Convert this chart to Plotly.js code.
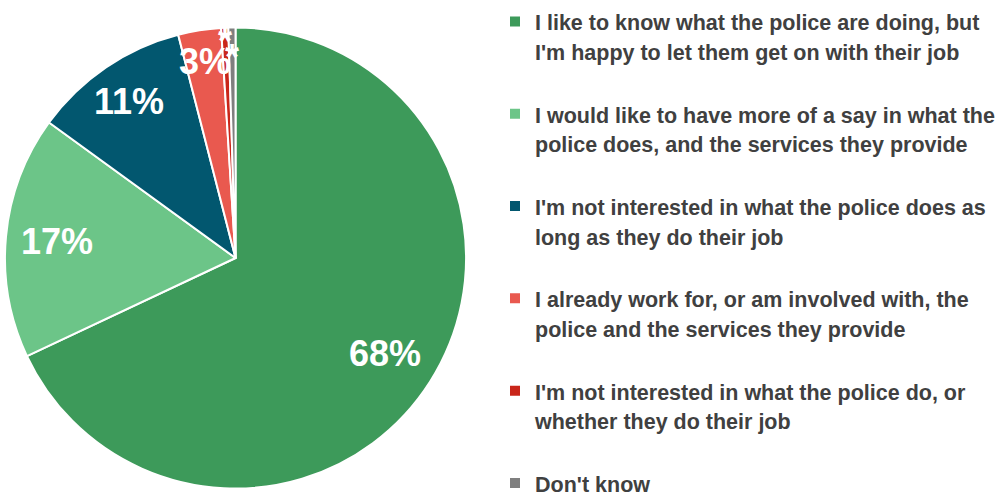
<!DOCTYPE html>
<html>
<head>
<meta charset="utf-8">
<script src="https://cdn.plot.ly/plotly-3.0.1.min.js"></script>
<style>
  html, body { margin: 0; padding: 0; background: #fff; overflow: hidden; }
  #chart { width: 1001px; height: 498px; }
</style>
</head>
<body>
<div id="chart"></div>
<script>
// ---- data ----
const categories = [
  "I like to know what the police are doing, but<br>I'm happy to let them get on with their job",
  "I would like to have more of a say in what the<br>police does, and the services they provide",
  "I'm not interested in what the police does as<br>long as they do their job",
  "I already work for, or am involved with, the<br>police and the services they provide",
  "I'm not interested in what the police do, or<br>whether they do their job",
  "Don't know"
];
const values = [68, 17, 11, 3, 0.5, 0.5];
const valueLabels = ["68%", "17%", "11%", "3%", "*", "*"];

// ---- style ----
const colors = ["#3D9A5A", "#6CC588", "#02576F", "#E9594F", "#C9261A", "#7F7F7F"];
const labelRadius = [0.77, 0.78, 0.82, 0.86, 0.94, 0.866]; // fraction of pie radius for each data label
const legendTextSize = 21.5;

const W = 1001, H = 498;
const domX = [5 / W, 467 / W];
const domY = [1 - 489 / H, 1 - 27 / H];

// legend entries: each line at the text size; a blank trailing line spaces the entries apart
const legendLabels = categories.map((c, i) => {
  const lines = c.split("<br>").map(l => `<span style="font-size:${legendTextSize}px">${l}</span>`);
  return lines.join("<br>") + (i < categories.length - 1 ? "<br> " : "");
});

const trace = {
  type: "pie",
  labels: legendLabels,
  values: values,
  text: valueLabels,
  textinfo: "none",
  sort: false,
  direction: "clockwise",
  rotation: 0,
  hoverinfo: "label+text",
  marker: { colors: colors, line: { color: "#ffffff", width: 2 } },
  domain: { x: domX, y: domY }
};

// data labels positioned at each slice's mid-angle
const cx = (domX[0] + domX[1]) / 2 * W;
const cy = (1 - (domY[0] + domY[1]) / 2) * H;
const R = Math.min((domX[1] - domX[0]) * W, (domY[1] - domY[0]) * H) / 2;
const total = values.reduce((a, b) => a + b, 0);
let cum = 0;
const annotations = values.map((v, i) => {
  const mid = (cum + v / 2) / total;
  cum += v;
  const th = 2 * Math.PI * mid;
  const px = cx + labelRadius[i] * R * Math.sin(th);
  const py = cy - labelRadius[i] * R * Math.cos(th);
  return {
    xref: "paper", yref: "paper",
    x: px / W, y: 1 - py / H,
    xanchor: "center", yanchor: "middle",
    text: valueLabels[i],
    showarrow: false,
    font: { family: "Liberation Sans, Arial, sans-serif", size: 36, color: "#ffffff", weight: "bold" }
  };
});

const layout = {
  width: W,
  height: H,
  margin: { l: 0, r: 0, t: 0, b: 0 },
  paper_bgcolor: "#ffffff",
  showlegend: true,
  annotations: annotations,
  legend: {
    x: 0.4955, xanchor: "left",
    y: 1.0, yanchor: "top",
    valign: "top",
    font: { family: "Liberation Sans, Arial, sans-serif", size: 22.9, color: "#404040", weight: "bold" },
    bgcolor: "rgba(0,0,0,0)"
  }
};

Plotly.newPlot("chart", [trace], layout, { displayModeBar: false, staticPlot: true });
</script>
</body>
</html>
